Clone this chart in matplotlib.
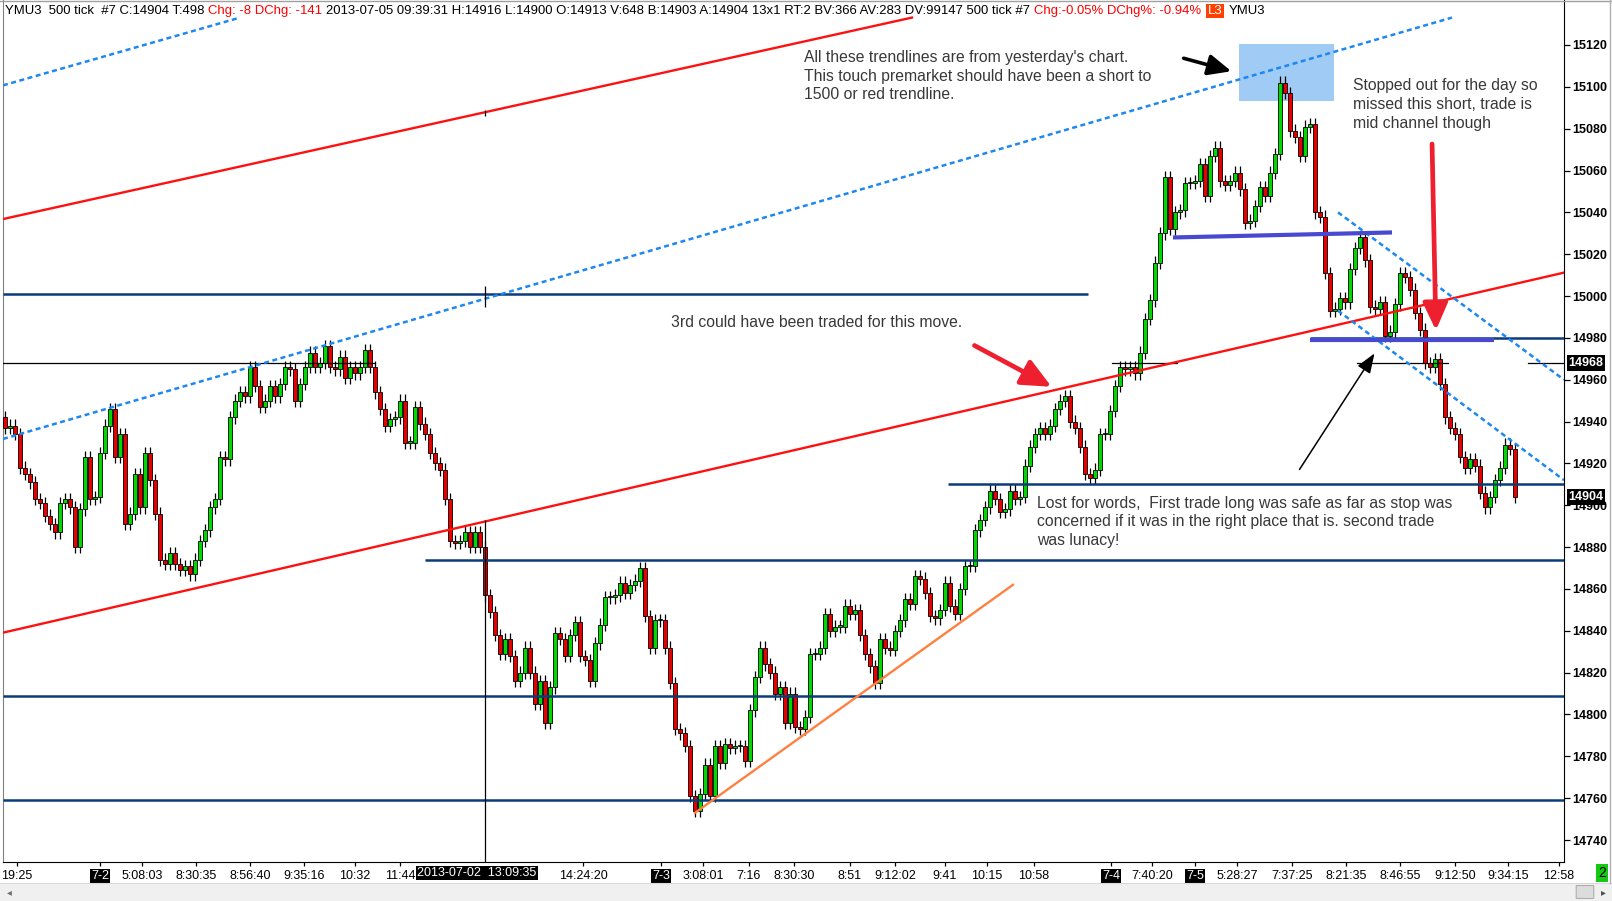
import matplotlib.pyplot as plt
from matplotlib.patches import Rectangle, FancyBboxPatch
from matplotlib.lines import Line2D
from matplotlib.transforms import blended_transform_factory
import numpy as np

plt.rcParams['font.family'] = ['Liberation Sans', 'DejaVu Sans']

# closes of the 500 tick bars (left to right)
closes = [
    14937, 14938, 14934, 14918, 14915, 14911, 14903, 14901, 14895, 14891,
    14887, 14901, 14903, 14899, 14880, 14898, 14923, 14903, 14904, 14925,
    14938, 14946, 14923, 14934, 14891, 14896, 14915, 14899, 14925, 14912,
    14896, 14874, 14872, 14877, 14872, 14869, 14871, 14867, 14874, 14883,
    14888, 14899, 14903, 14923, 14922, 14942, 14950, 14954, 14952, 14966,
    14957, 14947, 14950, 14957, 14952, 14958, 14966, 14965, 14950, 14958,
    14966, 14973, 14966, 14968, 14976, 14966, 14965, 14971, 14961, 14966,
    14963, 14966, 14974, 14966, 14954, 14946, 14938, 14941, 14942, 14950,
    14930, 14930, 14947, 14939, 14934, 14925, 14920, 14917, 14903, 14883,
    14882, 14883, 14887, 14880,
    14887, 14880, 14857, 14849, 14838, 14829, 14836, 14828, 14816, 14820,
    14832, 14820, 14805, 14816, 14796, 14813, 14839, 14836, 14828, 14838,
    14844, 14828, 14826, 14816, 14834, 14843, 14856, 14856, 14857, 14863,
    14858, 14862, 14864, 14870, 14847, 14832, 14845, 14845, 14832, 14815,
    14793, 14791, 14785, 14761, 14754, 14762, 14776, 14761, 14785, 14777,
    14786, 14784, 14785, 14785, 14778, 14802, 14818, 14832, 14824, 14820,
    14810, 14813, 14796, 14810, 14794, 14793, 14799, 14829, 14829, 14832,
    14848, 14840, 14842, 14842, 14852, 14848, 14850, 14838, 14829, 14823,
    14815, 14836, 14832, 14831, 14840, 14845, 14855, 14853, 14866, 14865,
    14858, 14847, 14846, 14850, 14863, 14852, 14848, 14860, 14871, 14871,
    14888, 14893, 14899,
    14907, 14903, 14897, 14898, 14907, 14903, 14904, 14919, 14928, 14934,
    14937, 14934, 14938, 14946, 14950, 14952, 14940, 14937, 14928, 14915,
    14913, 14917, 14934, 14934, 14945, 14957, 14966, 14965, 14966, 14963,
    14973, 14989, 14998, 15016, 15030, 15057, 15032, 15040, 15041, 15054,
    15054, 15055, 15063, 15048, 15067, 15071, 15055, 15053, 15055, 15059,
    15051, 15035, 15036,
    15043, 15052, 15048, 15059, 15068, 15102, 15097, 15079, 15076, 15067,
    15081, 15082, 15040, 15038, 15011, 14993, 14994, 14999, 14997, 15013,
    15023, 15028, 15017, 14995, 14994, 14997, 14981, 14983, 14996, 15011,
    15009, 15003, 14992, 14984, 14968, 14966, 14970, 14958, 14942, 14937,
    14934, 14923, 14918, 14922, 14919, 14906, 14899, 14904, 14912, 14918,
    14929, 14927, 14904,
]
first_open = 14942
wick = 3

price_ticks = list(range(14740, 15121, 20))
last_price = 14904
cross_price = 14968

tick_pos = [2.4, 19, 27.4, 38.2, 49, 59.8, 70, 79, 115.6, 131.2, 139.6, 148.8,
            157.8, 169, 178, 188, 196.4, 205.8, 221.2, 229.4, 238, 246.4,
            257.4, 268.2, 279, 290, 300.6, 310.8]
tick_labels = ['19:25', '7-2', '5:08:03', '8:30:35', '8:56:40', '9:35:16', '10:32',
               '11:44', '14:24:20', '7-3', '3:08:01', '7:16', '8:30:30', '8:51',
               '9:12:02', '9:41', '10:15', '10:58', '7-4', '7:40:20', '7-5',
               '5:28:27', '7:37:25', '8:21:35', '8:46:55', '9:12:50', '9:34:15',
               '12:58']
day_marks = ['7-2', '7-3', '7-4', '7-5']
cross_x = 96
cross_label = '2013-07-02  13:09:35'

# trendlines from the previous day (bar index, price)
red_lines = [((-0.4, 15036.8), (181.4, 15133.1)),
             ((-0.4, 14839.1), (311.8, 15011.2))]
blue_lines = [((-0.4, 15100.7), (47, 15133.1)),
              ((-0.4, 14931.7), (289.4, 15133.1)),
              ((266.6, 15040), (311.8, 14960)),
              ((266.6, 14993), (311.8, 14912))]
orange_line = ((138, 14753), (201.6, 14862))
purple_lines = [((233.6, 15028), (277.4, 15030.4)),
                ((261, 14979), (297.8, 14979))]
navy_levels = [(15001, -0.4, 216.6), (14980, 261, 311.8), (14910, 188.6, 311.8),
               (14874, 84, 311.8), (14809, -0.4, 311.8), (14759, -0.4, 311.8)]
black_segments = [(-0.4, 74), (221.4, 234.4), (270.4, 288.6), (304.6, 311.8)]
box_zone = (246.8, 265.8, 15093.2, 15120.5)

header = [("YMU3  500 tick  #7 C:14904 T:498", 'black'),
          ("Chg: -8 DChg: -141", 'red'),
          ("2013-07-05 09:39:31 H:14916 L:14900 O:14913 V:648 B:14903 A:14904 "
           "13x1 RT:2 BV:366 AV:283 DV:99147 500 tick #7", 'black'),
          ("Chg:-0.05% DChg%: -0.94%", 'red'),
          ("L3", 'box'),
          ("YMU3", 'black')]

note_color = '#383838'
notes = [
    (159.8, 15117.5, "All these trendlines are from yesterday's chart.\n"
                     "This touch premarket should have been a short to\n"
                     "1500 or red trendline."),
    (269.6, 15104, "Stopped out for the day so\nmissed this short, trade is\n"
                   "mid channel though"),
    (133.2, 14991, "3rd could have been traded for this move."),
    (206.4, 14904.5, "Lost for words,  First trade long was safe as far as stop was\n"
                     "concerned if it was in the right place that is. second trade\n"
                     "was lunacy!"),
]

W, H = 1612, 901
fig = plt.figure(figsize=(W / 100, H / 100), dpi=100)
fig.patch.set_facecolor('white')
ax = fig.add_axes([3 / W, 39 / H, 1561 / W, 862 / H])
ax.set_xlim(-0.4, 311.8)
ax.set_ylim(14729.5, 15141.5)

# candles
opens = [first_open] + closes[:-1]
idx = np.arange(len(closes))
o = np.array(opens, dtype=float)
c = np.array(closes, dtype=float)
hi = np.maximum(o, c) + wick
lo = np.minimum(o, c) - wick
ax.vlines(idx, lo, hi, color='black', lw=0.9, zorder=3)
up = c >= o
body = np.maximum(np.abs(c - o), 0.6)
ax.bar(idx[up], body[up], bottom=np.minimum(o, c)[up], width=0.7,
       color='#00d800', edgecolor='black', lw=0.6, zorder=3)
ax.bar(idx[~up], body[~up], bottom=np.minimum(o, c)[~up], width=0.7,
       color='#e80000', edgecolor='black', lw=0.6, zorder=3)

# shaded zone
x0, x1, y0, y1 = box_zone
ax.add_patch(Rectangle((x0, y0), x1 - x0, y1 - y0, color='#9fcbf5', zorder=1, lw=0))

for p, a, b in navy_levels:
    ax.plot([a, b], [p, p], color='#0a3c7a', lw=1.8, zorder=4, solid_capstyle='butt')
for a, b in black_segments:
    ax.plot([a, b], [cross_price, cross_price], color='black', lw=0.9, zorder=4)
for (xa, ya), (xb, yb) in red_lines:
    ax.plot([xa, xb], [ya, yb], color='#ff1010', lw=1.7, zorder=4)
for (xa, ya), (xb, yb) in blue_lines:
    ax.plot([xa, xb], [ya, yb], color='#1e88f0', lw=1.8, ls=(0, (2.0, 1.4)), zorder=4)
(xa, ya), (xb, yb) = orange_line
ax.plot([xa, xb], [ya, yb], color='#ff8040', lw=1.7, zorder=4)
for (xa, ya), (xb, yb) in purple_lines:
    ax.plot([xa, xb], [ya, yb], color='#4848d0', lw=3.0, zorder=4, solid_capstyle='butt')

# crosshair
ax.vlines(cross_x, 14729.5, 14893, color='black', lw=0.9, zorder=4)
ax.vlines(cross_x, 14995, 15005, color='black', lw=0.9, zorder=4)
ax.vlines(cross_x, 15086, 15089, color='black', lw=0.9, zorder=4)

# arrows
ax.annotate('', xy=(245.8, 15107.1), xytext=(235.2, 15114),
            arrowprops=dict(arrowstyle='-|>,head_length=1.0,head_width=0.45',
                            color='black', lw=2.6, mutation_scale=14), zorder=5)
ax.annotate('', xy=(209.8, 14956), xytext=(193.4, 14977),
            arrowprops=dict(arrowstyle='-|>,head_length=1.2,head_width=0.55',
                            color='#ee2030', lw=3.4, mutation_scale=15), zorder=5)
ax.annotate('', xy=(286.2, 14982.3), xytext=(285.4, 15074),
            arrowprops=dict(arrowstyle='-|>,head_length=1.1,head_width=0.5',
                            color='#ee2030', lw=3.4, mutation_scale=15), zorder=5)
ax.annotate('', xy=(274.2, 14973.7), xytext=(258.6, 14916),
            arrowprops=dict(arrowstyle='-|>,head_length=1.2,head_width=0.45',
                            color='black', lw=1.1, mutation_scale=10), zorder=5)

for x, y, s in notes:
    ax.text(x, y, s, fontsize=11.3, color=note_color, va='top', ha='left',
            linespacing=1.3, zorder=6)

# axes frame
ax.spines['top'].set_visible(False)
ax.spines['left'].set_color('#808080')
ax.spines['right'].set_color('black')
ax.spines['bottom'].set_color('black')
ax.yaxis.tick_right()
ax.set_yticks(price_ticks)
ax.set_yticklabels([str(p) for p in price_ticks], fontsize=9, fontweight='bold')
ax.tick_params(axis='y', length=4, pad=2, width=0.9)
ax.set_xticks(tick_pos)
ax.set_xticklabels(tick_labels, fontsize=9)
ax.tick_params(axis='x', length=3, pad=3, width=0.9)
for lab in ax.get_xticklabels():
    if lab.get_text() in day_marks:
        lab.set_color('white')
        lab.set_bbox(dict(facecolor='black', edgecolor='none', pad=0.8))

ytr = blended_transform_factory(ax.transAxes, ax.transData)
for p in [cross_price, last_price]:
    ax.text(1.003, p, str(p), transform=ytr, fontsize=9, fontweight='bold',
            color='white', va='center', ha='left', zorder=10, clip_on=False,
            bbox=dict(facecolor='black', edgecolor='none', pad=1.2))

xtr = blended_transform_factory(ax.transData, fig.transFigure)
ax.text(82.4, 1 - 873 / H, cross_label, transform=xtr, fontsize=9, color='white',
        va='center', ha='left', clip_on=False, zorder=10,
        bbox=dict(facecolor='black', edgecolor='none', pad=1.0))

# header line, pieces chained one after another
hsize = 9.45
t = ax.text(2 / 1561, 1 - 11 / 862, header[0][0], transform=ax.transAxes,
            fontsize=hsize, color=header[0][1], va='center', ha='left', zorder=10)
for s, col in header[1:]:
    if col == 'box':
        t = ax.annotate(s, xy=(1, 0.5), xycoords=t, xytext=(6, 0),
                        textcoords='offset pixels', fontsize=hsize, color='white',
                        va='center', ha='left', zorder=10,
                        bbox=dict(facecolor='#ff4000', edgecolor='none', pad=1.0))
    else:
        gap = 6 if t.get_text() == 'L3' else 4
        t = ax.annotate(s, xy=(1, 0.5), xycoords=t, xytext=(gap, 0),
                        textcoords='offset pixels', fontsize=hsize, color=col,
                        va='center', ha='left', zorder=10)

# window furniture: scrollbar, status box, borders
fig.patches.append(Rectangle((0, 0), 1, 18 / H, transform=fig.transFigure,
                             facecolor='#f0f0f0', edgecolor='none', zorder=0))
fig.lines.append(Line2D([0, 1], [18 / H, 18 / H], transform=fig.transFigure,
                        color='#dadada', lw=0.8))
fig.patches.append(FancyBboxPatch((1577 / W, 3 / H), 16 / W, 12 / H,
                                  boxstyle='round,pad=0.0005', transform=fig.transFigure,
                                  facecolor='#dcdcdc', edgecolor='#a8a8a8', lw=0.7))
fig.text(9 / W, 9 / H, '\u25c2', fontsize=7, color='#707070', ha='center', va='center')
fig.text(1603 / W, 9 / H, '\u25b8', fontsize=7, color='#505050', ha='center', va='center')
fig.text(1602 / W, 1 - 873 / H, '2', fontsize=10, color='black', ha='center', va='center',
         bbox=dict(facecolor='#14c814', edgecolor='none', pad=1.6))
fig.lines.append(Line2D([0, 1], [1 - 0.5 / H, 1 - 0.5 / H], transform=fig.transFigure,
                        color='#a0a0a0', lw=1))
fig.lines.append(Line2D([1610 / W, 1610 / W], [18 / H, 1], transform=fig.transFigure,
                        color='#b0b0b0', lw=1))

fig.savefig('out.png', dpi=100)
